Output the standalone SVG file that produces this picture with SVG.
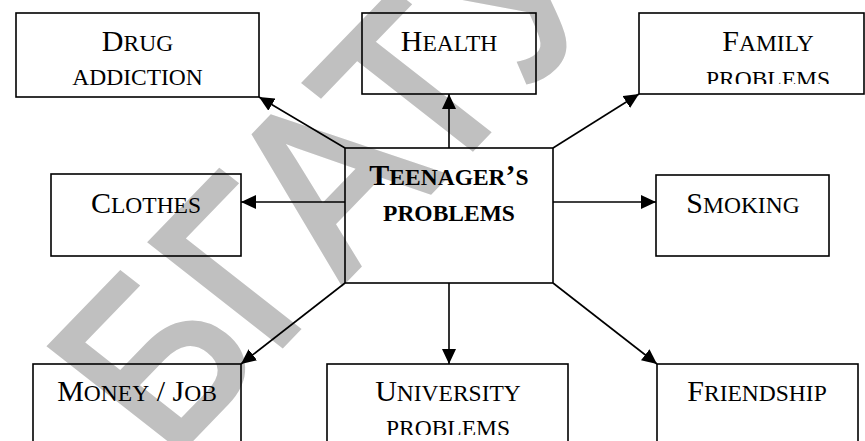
<svg xmlns="http://www.w3.org/2000/svg" width="865" height="441" viewBox="0 0 865 441">
<style>
.box{fill:none;stroke:#000;stroke-width:1.6}
.lbl{font-family:"Liberation Serif","Times New Roman",serif;font-size:30px;fill:#000;text-anchor:middle}
.sc{font-size:23.5px}
.bold{font-weight:bold}
.conn{stroke:#000;stroke-width:1.6;fill:none;marker-end:url(#ah)}
.wm{font-family:"Liberation Sans",Arial,sans-serif;font-size:240px;fill:#c0c0c0;stroke:#c0c0c0;stroke-width:7;stroke-linejoin:miter}
</style>
<defs>
<marker id="ah" markerUnits="userSpaceOnUse" markerWidth="16" markerHeight="14" refX="15" refY="7" orient="auto">
<path d="M0,0 L15,7 L0,14 z" fill="#000"/>
</marker>
<clipPath id="clipFam"><rect x="600" y="0" width="265" height="84"/></clipPath>
<clipPath id="clipUni"><rect x="300" y="300" width="300" height="135"/></clipPath>
</defs>
<rect width="865" height="441" fill="#fff"/>
<text class="wm" x="0" y="0" transform="matrix(0.639,-0.661,0.788,0.616,169,461)">БГАТУ</text>
<g id="connectors">
<line class="conn" x1="345" y1="148" x2="259" y2="97"/>
<line class="conn" x1="449" y1="148" x2="449" y2="94"/>
<line class="conn" x1="553" y1="148" x2="639" y2="94"/>
<line class="conn" x1="345" y1="202" x2="241" y2="202"/>
<line class="conn" x1="553" y1="202" x2="656" y2="202"/>
<line class="conn" x1="345" y1="283" x2="241" y2="364"/>
<line class="conn" x1="449" y1="283" x2="449" y2="364"/>
<line class="conn" x1="553" y1="283" x2="657" y2="364"/>
</g>
<g id="center">
<rect class="box" x="345" y="148" width="208" height="135"/>
<text class="lbl bold" x="449" y="185">T<tspan class="sc">EENAGER</tspan>’<tspan class="sc">S</tspan></text>
<text class="lbl bold sc" x="449" y="221">PROBLEMS</text>
</g>
<g id="drug">
<rect class="box" x="16" y="13" width="243" height="84"/>
<text class="lbl" x="137.5" y="51">D<tspan class="sc">RUG</tspan></text>
<text class="lbl sc" x="137.5" y="85">ADDICTION</text>
</g>
<g id="health">
<rect class="box" x="362" y="13" width="174" height="81"/>
<text class="lbl" x="449" y="51">H<tspan class="sc">EALTH</tspan></text>
</g>
<g id="family">
<rect class="box" x="639" y="13" width="225" height="81"/>
<text class="lbl" x="768" y="51">F<tspan class="sc">AMILY</tspan></text>
<text class="lbl sc" x="768" y="86.5" clip-path="url(#clipFam)">PROBLEMS</text>
</g>
<g id="clothes">
<rect class="box" x="51" y="174" width="190" height="82"/>
<text class="lbl" x="146" y="213">C<tspan class="sc">LOTHES</tspan></text>
</g>
<g id="smoking">
<rect class="box" x="656" y="175" width="173" height="81"/>
<text class="lbl" x="743" y="213">S<tspan class="sc">MOKING</tspan></text>
</g>
<g id="money">
<rect class="box" x="33" y="364" width="208" height="100"/>
<text class="lbl" x="137" y="401">M<tspan class="sc">ONEY</tspan> / J<tspan class="sc">OB</tspan></text>
</g>
<g id="university">
<rect class="box" x="327" y="364" width="241" height="100"/>
<text class="lbl" x="448" y="401">U<tspan class="sc">NIVERSITY</tspan></text>
<text class="lbl sc" x="448" y="435.6" clip-path="url(#clipUni)">PROBLEMS</text>
</g>
<g id="friendship">
<rect class="box" x="657" y="364" width="201" height="100"/>
<text class="lbl" x="757" y="401">F<tspan class="sc">RIENDSHIP</tspan></text>
</g>
</svg>
